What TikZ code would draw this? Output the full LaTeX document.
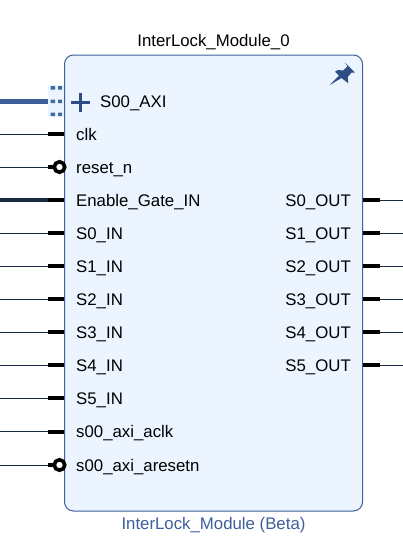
\documentclass[tikz,border=0pt]{standalone}
\usepackage{fontspec}
\setmainfont{Liberation Sans}
\definecolor{blockfill}{HTML}{EBF4FF}
\definecolor{blockline}{HTML}{3D5F9B}
\definecolor{pincol}{HTML}{2F4D85}
\definecolor{dotcol}{HTML}{3A6CA5}
\definecolor{wirecol}{HTML}{1B2A44}
\tikzset{
    portlabel/.style={font=\fontsize{16.8}{19}\selectfont,inner sep=0pt,text=black},
    wire/.style={draw=wirecol,line width=1pt},
    thickwire/.style={draw=wirecol,line width=4pt},
    stub/.style={draw=black,line width=4pt},
    invcircle/.style={circle,draw=black,line width=3.6pt,fill=white,minimum size=10.5pt,inner sep=0pt}
}
\begin{document}
\begin{tikzpicture}[x=1pt,y=-1pt]
    \useasboundingbox (0,0) rectangle (403,557);
    \node[draw=blockline,fill=blockfill,line width=1pt,rounded corners=9pt,minimum width=298pt,minimum height=456pt,inner sep=0pt] (block) at (213.5,283) {};
    \node[portlabel,anchor=base] (title) at (213.5,46.5) {InterLock\_Module\_0};
    \node[portlabel,anchor=base,text=blockline] (subtitle) at (213.5,529) {InterLock\_Module (Beta)};

    \fill[pincol] (329.3,85.3) -- (339,75.5) -- (335,71.7) -- (338,70) -- (343,70.5) -- (347.5,66.5) -- (345,62.7) -- (355,72.7) -- (351.5,72.5) -- (347.8,77) -- (348.3,83.3) -- (341.5,78) -- cycle;

    \node[fill=blockfill,minimum width=16pt,minimum height=32pt,inner sep=0pt] (axibox) at (56,101) {};
    \coordinate (axiw) at (0,101.5);
    \draw[draw=blockline,line width=5pt] (axiw) -- (axiw -| axibox.west);
    \fill[dotcol] (50.5,86) rectangle (55,89.5) (58,86) rectangle (62,89.5);
    \fill[dotcol] (50.5,99.5) rectangle (55,103) (58,99.5) rectangle (62,103);
    \fill[dotcol] (50.5,112.5) rectangle (55,116) (58,112.5) rectangle (62,116);
    \draw[draw=pincol,line width=3pt] (71,102) -- (90,102) (80.5,92.5) -- (80.5,111.5);
    \node[portlabel,anchor=base west] (saxi) at (100,107) {S00\_AXI};

    \node[portlabel,anchor=base west] (clk) at (76,140) {clk};
    \coordinate (clkw) at (0,134);
    \coordinate (clkp) at (48,134);
    \draw[wire] (clkw) -- (clkp);
    \draw[stub] (clkp) -- (clkp -| block.west);

    \node[portlabel,anchor=base west] (resetn) at (76,173) {reset\_n};
    \coordinate (resetw) at (0,167);
    \coordinate (resetp) at (48,167);
    \draw[wire] (resetw) -- (resetp);
    \draw[stub] (resetp) -- (resetp -| block.west);
    \node[invcircle] (resetc) at (59.5,167) {};

    \node[portlabel,anchor=base west] (enable) at (76,206) {Enable\_Gate\_IN};
    \coordinate (enablew) at (0,200);
    \coordinate (enablep) at (48,200);
    \draw[thickwire] (enablew) -- (enablep);
    \draw[stub] (enablep) -- (enablep -| block.west);

    \node[portlabel,anchor=base west] (szeroin) at (76,239) {S0\_IN};
    \coordinate (szeroinw) at (0,233);
    \coordinate (szeroinp) at (48,233);
    \draw[wire] (szeroinw) -- (szeroinp);
    \draw[stub] (szeroinp) -- (szeroinp -| block.west);

    \node[portlabel,anchor=base west] (soin) at (76,272) {S1\_IN};
    \coordinate (soinw) at (0,266);
    \coordinate (soinp) at (48,266);
    \draw[wire] (soinw) -- (soinp);
    \draw[stub] (soinp) -- (soinp -| block.west);

    \node[portlabel,anchor=base west] (stin) at (76,305) {S2\_IN};
    \coordinate (stinw) at (0,299);
    \coordinate (stinp) at (48,299);
    \draw[wire] (stinw) -- (stinp);
    \draw[stub] (stinp) -- (stinp -| block.west);

    \node[portlabel,anchor=base west] (sthin) at (76,338) {S3\_IN};
    \coordinate (sthinw) at (0,332);
    \coordinate (sthinp) at (48,332);
    \draw[wire] (sthinw) -- (sthinp);
    \draw[stub] (sthinp) -- (sthinp -| block.west);

    \node[portlabel,anchor=base west] (sfin) at (76,371) {S4\_IN};
    \coordinate (sfinw) at (0,365);
    \coordinate (sfinp) at (48,365);
    \draw[wire] (sfinw) -- (sfinp);
    \draw[stub] (sfinp) -- (sfinp -| block.west);

    \node[portlabel,anchor=base west] (sfvin) at (76,404) {S5\_IN};
    \coordinate (sfvinw) at (0,398);
    \coordinate (sfvinp) at (48,398);
    \draw[wire] (sfvinw) -- (sfvinp);
    \draw[stub] (sfvinp) -- (sfvinp -| block.west);

    \node[portlabel,anchor=base west] (aclk) at (76,437.5) {s00\_axi\_aclk};
    \coordinate (aclkw) at (0,431.5);
    \coordinate (aclkp) at (48,431.5);
    \draw[wire] (aclkw) -- (aclkp);
    \draw[stub] (aclkp) -- (aclkp -| block.west);

    \node[portlabel,anchor=base west] (aresetn) at (76,471) {s00\_axi\_aresetn};
    \coordinate (aresetw) at (0,465);
    \coordinate (aresetp) at (48,465);
    \draw[wire] (aresetw) -- (aresetp);
    \draw[stub] (aresetp) -- (aresetp -| block.west);
    \node[invcircle] (aresetc) at (59.5,465) {};

    \node[portlabel,anchor=base east] (szeroout) at (351,206) {S0\_OUT};
    \coordinate (szerooutw) at (403,200);
    \coordinate (szerooutp) at (380,200);
    \draw[wire] (szerooutp) -- (szerooutw);
    \draw[stub] (szerooutp -| block.east) -- (szerooutp);

    \node[portlabel,anchor=base east] (soout) at (351,239) {S1\_OUT};
    \coordinate (sooutw) at (403,233);
    \coordinate (sooutp) at (380,233);
    \draw[wire] (sooutp) -- (sooutw);
    \draw[stub] (sooutp -| block.east) -- (sooutp);

    \node[portlabel,anchor=base east] (stout) at (351,272) {S2\_OUT};
    \coordinate (stoutw) at (403,266);
    \coordinate (stoutp) at (380,266);
    \draw[wire] (stoutp) -- (stoutw);
    \draw[stub] (stoutp -| block.east) -- (stoutp);

    \node[portlabel,anchor=base east] (sthout) at (351,305) {S3\_OUT};
    \coordinate (sthoutw) at (403,299);
    \coordinate (sthoutp) at (380,299);
    \draw[wire] (sthoutp) -- (sthoutw);
    \draw[stub] (sthoutp -| block.east) -- (sthoutp);

    \node[portlabel,anchor=base east] (sfout) at (351,338) {S4\_OUT};
    \coordinate (sfoutw) at (403,332);
    \coordinate (sfoutp) at (380,332);
    \draw[wire] (sfoutp) -- (sfoutw);
    \draw[stub] (sfoutp -| block.east) -- (sfoutp);

    \node[portlabel,anchor=base east] (sfvout) at (351,371) {S5\_OUT};
    \coordinate (sfvoutw) at (403,365);
    \coordinate (sfvoutp) at (380,365);
    \draw[wire] (sfvoutp) -- (sfvoutw);
    \draw[stub] (sfvoutp -| block.east) -- (sfvoutp);
\end{tikzpicture}
\end{document}
